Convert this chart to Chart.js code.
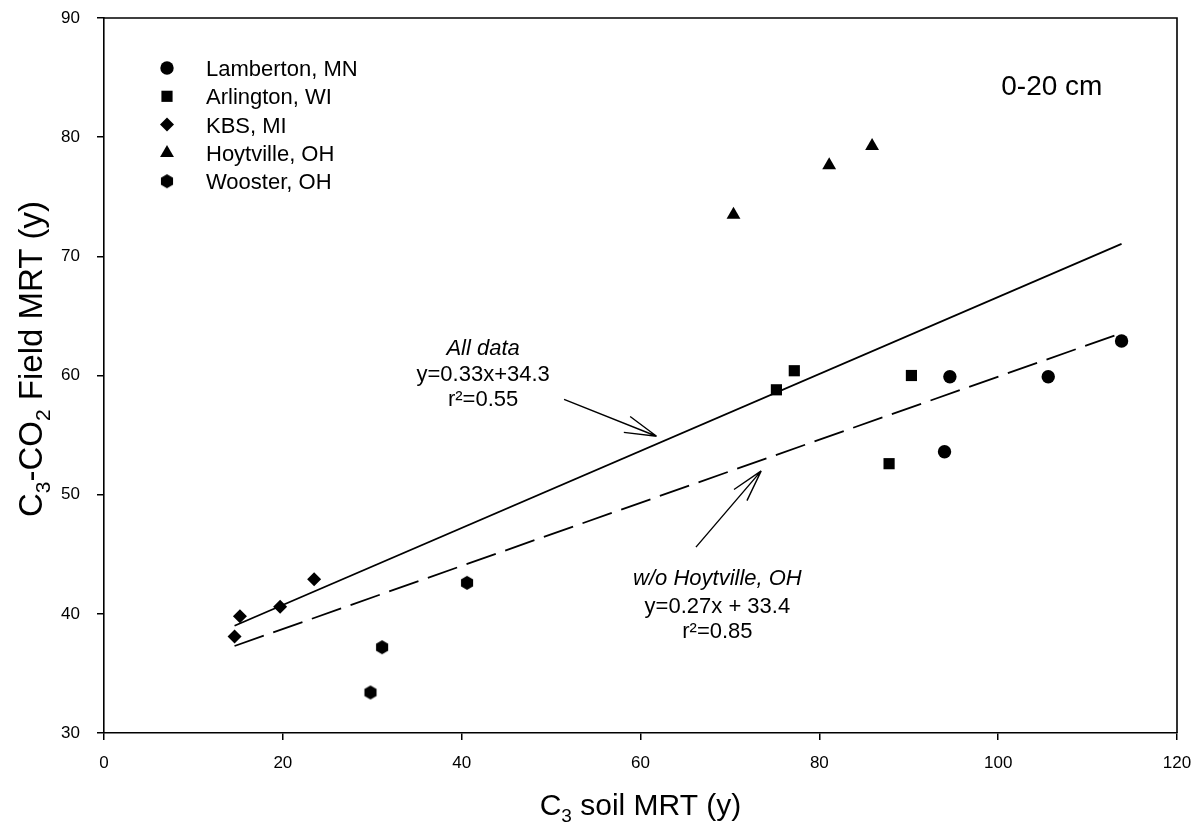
<!DOCTYPE html>
<html><head><meta charset="utf-8">
<script src="https://cdn.jsdelivr.net/npm/chart.js@4.4.1/dist/chart.umd.min.js"></script>
<style>html,body{margin:0;padding:0;background:#fff;overflow:hidden}</style>
</head><body>
<canvas id="c" width="1197" height="822" style="width:1197px;height:822px;display:block"></canvas>
<script>
// ---- data ----
const xTicks = [0, 20, 40, 60, 80, 100, 120];
const yTicks = [30, 40, 50, 60, 70, 80, 90];
const siteNames = ['Lamberton, MN', 'Arlington, WI', 'KBS, MI', 'Hoytville, OH', 'Wooster, OH'];
const lambertonX = [94.0, 94.6, 105.6, 113.8];
const lambertonY = [53.6, 59.9, 59.9, 62.9];
const arlingtonX = [75.2, 77.2, 87.8, 90.3];
const arlingtonY = [58.8, 60.4, 52.6, 60.0];
const kbsX = [14.6, 15.2, 19.7, 23.5];
const kbsY = [38.1, 39.8, 40.6, 42.9];
const hoytvilleX = [70.4, 81.1, 85.9];
const hoytvilleY = [73.5, 77.65, 79.25];
const woosterX = [29.8, 31.1, 40.6];
const woosterY = [33.4, 37.2, 42.6];
const fitAllX = [14.6, 113.8];
const fitAllY = [39.0, 71.05];
const fitWoX = [14.6, 113.2];
const fitWoY = [37.3, 63.4];
const noteAll = ['All data', 'y=0.33x+34.3', 'r\u00B2=0.55'];
const noteWo = ['w/o Hoytville, OH', 'y=0.27x + 33.4', 'r\u00B2=0.85'];
const depthLabel = '0-20 cm';

const pts = (xs, ys) => xs.map((x, i) => ({x: x, y: ys[i]}));

// hexagon marker
function hexCanvas(r) {
  const s = Math.ceil(r * 2 + 2);
  const cv = document.createElement('canvas');
  cv.width = s; cv.height = s;
  const g = cv.getContext('2d');
  g.fillStyle = '#000';
  g.beginPath();
  for (let k = 0; k < 6; k++) {
    const a = -Math.PI / 2 + k * Math.PI / 3;
    const px = s / 2 + r * Math.cos(a), py = s / 2 + r * Math.sin(a);
    k ? g.lineTo(px, py) : g.moveTo(px, py);
  }
  g.closePath(); g.fill();
  return cv;
}
const hex = hexCanvas(7.0);

const styles = ['circle', 'rect', 'rectRot', 'triangle', hex];
const radii = [6.7, 7.9, 7.0, 8.0, 7.0];
const xs = [lambertonX, arlingtonX, kbsX, hoytvilleX, woosterX];
const ys = [lambertonY, arlingtonY, kbsY, hoytvilleY, woosterY];

const datasets = siteNames.map((n, i) => ({
  label: n, data: pts(xs[i], ys[i]),
  pointStyle: styles[i], pointRadius: radii[i], pointHoverRadius: radii[i],
  backgroundColor: '#000', borderColor: '#000', borderWidth: 0, showLine: false
}));
datasets.push({label: 'fitAll', data: pts(fitAllX, fitAllY), showLine: true, pointRadius: 0,
  borderColor: '#000', borderWidth: 1.8, fill: false});
datasets.push({label: 'fitWo', data: pts(fitWoX, fitWoY), showLine: true, pointRadius: 0,
  borderColor: '#000', borderWidth: 1.8, borderDash: [31, 10], fill: false});

const FONT = '"Liberation Sans", Arial, Helvetica, sans-serif';

function richWidth(ctx, parts, f) {
  let w = 0;
  parts.forEach(p => { ctx.font = (p.sub ? Math.round(f * 0.64) : f) + 'px ' + FONT; w += ctx.measureText(p.t).width; });
  return w;
}
function drawRich(ctx, parts, cx, by, f) {
  let x = cx - richWidth(ctx, parts, f) / 2;
  ctx.textAlign = 'left'; ctx.textBaseline = 'alphabetic';
  parts.forEach(p => {
    const fs = p.sub ? Math.round(f * 0.64) : f;
    ctx.font = fs + 'px ' + FONT;
    ctx.fillText(p.t, x, by + (p.sub ? f * 0.24 : 0));
    x += ctx.measureText(p.t).width;
  });
}
function arrow(ctx, xs, ys, x0, y0, x1, y1) {
  const ax = xs.getPixelForValue(x0), ay = ys.getPixelForValue(y0);
  const bx = xs.getPixelForValue(x1), by = ys.getPixelForValue(y1);
  const ang = Math.atan2(ay - by, ax - bx);
  const L = 33, d = 15 * Math.PI / 180;
  ctx.beginPath();
  ctx.moveTo(ax, ay); ctx.lineTo(bx, by);
  ctx.moveTo(bx, by); ctx.lineTo(bx + L * Math.cos(ang + d), by + L * Math.sin(ang + d));
  ctx.moveTo(bx, by); ctx.lineTo(bx + L * Math.cos(ang - d), by + L * Math.sin(ang - d));
  ctx.stroke();
}

const decor = {
  id: 'decor',
  afterDraw(chart) {
    const ctx = chart.ctx, a = chart.chartArea;
    const sx = chart.scales.x, sy = chart.scales.y;
    ctx.save();
    ctx.strokeStyle = '#000'; ctx.fillStyle = '#000'; ctx.lineWidth = 1.6;
    // top & right frame
    ctx.beginPath();
    ctx.moveTo(a.left, a.top); ctx.lineTo(a.right, a.top); ctx.lineTo(a.right, a.bottom);
    ctx.stroke();
    // legend
    for (let i = 0; i < siteNames.length; i++) {
      const ds = chart.data.datasets[i];
      const cx = a.left + 63, cy = a.top + 50 + i * 28.3;
      ctx.fillStyle = '#000';
      Chart.helpers.drawPoint(ctx, {pointStyle: ds.pointStyle, radius: ds.pointRadius, rotation: 0, borderWidth: 0}, cx, cy);
      ctx.font = '22px ' + FONT; ctx.textAlign = 'left'; ctx.textBaseline = 'alphabetic';
      ctx.fillText(ds.label, a.left + 102, cy + 8);
    }
    // depth label
    ctx.font = '28px ' + FONT; ctx.textAlign = 'center'; ctx.textBaseline = 'alphabetic';
    ctx.fillText(depthLabel, sx.getPixelForValue(106.0), sy.getPixelForValue(83.5));
    // notes
    const noteFont = (i) => (i === 0 ? 'italic ' : '') + '22px ' + FONT;
    const allBase = [61.7, 59.5, 57.4];
    noteAll.forEach((t, i) => { ctx.font = noteFont(i); ctx.fillText(t, sx.getPixelForValue(42.4), sy.getPixelForValue(allBase[i])); });
    const woBase = [42.4, 40.05, 37.95];
    noteWo.forEach((t, i) => { ctx.font = noteFont(i); ctx.fillText(t, sx.getPixelForValue(68.6), sy.getPixelForValue(woBase[i])); });
    // arrows
    ctx.lineWidth = 1.4;
    arrow(ctx, sx, sy, 51.45, 58.0, 61.8, 54.9);
    arrow(ctx, sx, sy, 66.2, 45.6, 73.5, 52.0);
    // axis titles
    drawRich(ctx, [{t: 'C'}, {t: '3', sub: true}, {t: ' soil MRT (y)'}], (a.left + a.right) / 2, 815, 30);
    ctx.save();
    ctx.translate(42, 359); ctx.rotate(-Math.PI / 2);
    drawRich(ctx, [{t: 'C'}, {t: '3', sub: true}, {t: '-CO'}, {t: '2', sub: true}, {t: ' Field MRT (y)'}], 0, 0, 33);
    ctx.restore();
    ctx.restore();
  }
};

new Chart(document.getElementById('c'), {
  type: 'scatter',
  data: {datasets: datasets},
  options: {
    responsive: false, animation: false, devicePixelRatio: 1,
    layout: {padding: {top: 18, right: 20, left: 0, bottom: 0}},
    plugins: {legend: {display: false}, tooltip: {enabled: false}, title: {display: false}},
    scales: {
      x: {
        type: 'linear', min: 0, max: 120,
        afterBuildTicks: s => { s.ticks = xTicks.map(v => ({value: v})); },
        afterFit: s => { s.height = 89; s.paddingLeft = 0; s.paddingRight = 0; },
        ticks: {color: '#000', font: {size: 17, family: FONT}, padding: 13, maxRotation: 0},
        grid: {drawOnChartArea: false, drawTicks: true, tickLength: 7, color: '#000', lineWidth: 1.5},
        border: {display: true, color: '#000', width: 1.6}
      },
      y: {
        type: 'linear', min: 30, max: 90,
        afterBuildTicks: s => { s.ticks = yTicks.map(v => ({value: v})); },
        afterFit: s => { s.width = 104; s.paddingTop = 0; s.paddingBottom = 0; },
        ticks: {color: '#000', font: {size: 17, family: FONT}, padding: 17},
        grid: {drawOnChartArea: false, drawTicks: true, tickLength: 7, color: '#000', lineWidth: 1.5},
        border: {display: true, color: '#000', width: 1.6}
      }
    }
  },
  plugins: [decor]
});
</script>
</body></html>
